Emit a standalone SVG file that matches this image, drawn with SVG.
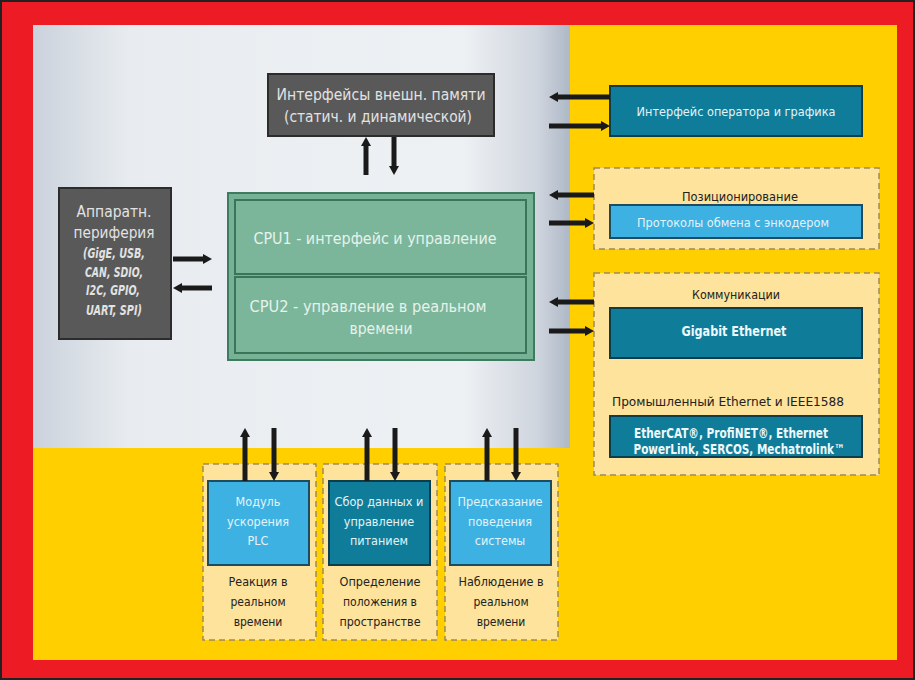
<svg xmlns="http://www.w3.org/2000/svg" width="915" height="680" viewBox="0 0 915 680">
<defs>
<linearGradient id="panel" x1="0" y1="0" x2="1" y2="0">
<stop offset="0" stop-color="#cbd2dc"/>
<stop offset="0.18" stop-color="#e8ecf0"/>
<stop offset="0.8" stop-color="#eef1f4"/>
<stop offset="0.94" stop-color="#cfd5de"/>
<stop offset="1" stop-color="#aeb8c6"/>
</linearGradient>
<marker id="ah" markerUnits="userSpaceOnUse" markerWidth="10" markerHeight="10" viewBox="0 0 10 10" refX="2" refY="5" orient="auto">
<path d="M0,0 L9,5 L0,10 z" fill="#1a1a1a"/>
</marker>
<style>
text{font-family:"Liberation Sans Narrow","DejaVu Sans Condensed","Liberation Sans",sans-serif;text-anchor:middle}
.gray{fill:#595959;stroke:#2c2c2c;stroke-width:2}
.gt{fill:#e2e2e2;font-size:15px}
.gi{fill:#e2e2e2;font-size:13.5px;font-style:italic;font-weight:bold}
.cpu{fill:#76b296;stroke:#3e7b5f;stroke-width:2}
.cpuin{fill:#7bb69b;stroke:#3a7559;stroke-width:2}
.ct{fill:#e6f2ec;font-size:16px}
.dash{fill:#fde39b;stroke:#a08a5a;stroke-width:1.5;stroke-dasharray:6 4}
.dark{fill:#0f7d99;stroke:#0b3d4c;stroke-width:2}
.light{fill:#3eb1e3;stroke:#1c4c62;stroke-width:2}
.wt{fill:#e4f3f8;font-size:12.5px}
.wb{fill:#eef8fb;font-size:13.5px;font-weight:bold}
.bt{fill:#222;font-size:12px}
.arr{stroke:#1a1a1a;stroke-width:5;fill:none;marker-end:url(#ah)}
</style>
</defs>
<rect x="1" y="1" width="913" height="678" fill="#ed1c24" stroke="#222" stroke-width="2"/>
<rect x="33" y="25" width="864" height="635" fill="#ffcf00"/>
<rect x="33" y="25" width="537" height="423" fill="url(#panel)"/>

<g id="memory">
<rect class="gray" x="268" y="74" width="226" height="62"/>
<text class="gt" x="381" y="100" textLength="209" lengthAdjust="spacingAndGlyphs">Интерфейсы внешн. памяти</text>
<text class="gt" x="378" y="122" textLength="188" lengthAdjust="spacingAndGlyphs">(статич. и динамической)</text>
</g>

<g id="periphery">
<rect class="gray" x="59" y="188" width="112" height="151"/>
<text class="gt" x="114" y="217" textLength="75" lengthAdjust="spacingAndGlyphs">Аппаратн.</text>
<text class="gt" x="114" y="238" textLength="81" lengthAdjust="spacingAndGlyphs">периферия</text>
<text class="gi" x="114" y="258" textLength="62" lengthAdjust="spacingAndGlyphs">(GigE, USB,</text>
<text class="gi" x="114" y="277" textLength="58" lengthAdjust="spacingAndGlyphs">CAN, SDIO,</text>
<text class="gi" x="113" y="295" textLength="54" lengthAdjust="spacingAndGlyphs">I2C, GPIO,</text>
<text class="gi" x="114" y="315" textLength="56" lengthAdjust="spacingAndGlyphs">UART, SPI)</text>
</g>

<g id="cpu">
<rect class="cpu" x="228" y="193" width="306" height="167"/>
<rect class="cpuin" x="235" y="200" width="291" height="74"/>
<rect class="cpuin" x="235" y="277" width="291" height="76"/>
<text class="ct" x="375" y="244" textLength="243" lengthAdjust="spacingAndGlyphs">CPU1 - интерфейс и управление</text>
<text class="ct" x="368" y="312" textLength="237" lengthAdjust="spacingAndGlyphs">CPU2 - управление в реальном</text>
<text class="ct" x="381" y="334" textLength="63" lengthAdjust="spacingAndGlyphs">времени</text>
</g>

<g id="operator">
<rect class="dark" x="610" y="86" width="252" height="50"/>
<text class="wt" x="736" y="116" textLength="199" lengthAdjust="spacingAndGlyphs">Интерфейс оператора и графика</text>
</g>

<g id="positioning">
<rect class="dash" x="594" y="168" width="285" height="81"/>
<text class="bt" x="740" y="201" textLength="116" lengthAdjust="spacingAndGlyphs">Позиционирование</text>
<rect class="light" x="610" y="205" width="252" height="33"/>
<text class="wt" x="733" y="227" textLength="192" lengthAdjust="spacingAndGlyphs">Протоколы обмена с энкодером</text>
</g>

<g id="communications">
<rect class="dash" x="594" y="273" width="285" height="202"/>
<text class="bt" x="736" y="299" textLength="88" lengthAdjust="spacingAndGlyphs">Коммуникации</text>
<rect class="dark" x="610" y="308" width="252" height="50"/>
<text class="wb" x="734" y="336" textLength="105" lengthAdjust="spacingAndGlyphs">Gigabit Ethernet</text>
<text class="bt" x="728" y="406" textLength="232" lengthAdjust="spacingAndGlyphs">Промышленный Ethernet и IEEE1588</text>
<rect class="dark" x="610" y="416" width="252" height="41"/>
<text class="wb" x="731" y="438" textLength="194" lengthAdjust="spacingAndGlyphs">EtherCAT®, ProfiNET®, Ethernet</text>
<text class="wb" x="739" y="454" textLength="211" lengthAdjust="spacingAndGlyphs">PowerLink, SERCOS, Mechatrolink™</text>
</g>

<g id="plc">
<rect class="dash" x="203" y="464" width="113" height="176"/>
<rect class="light" x="208" y="481" width="101" height="84"/>
<text class="wt" x="258" y="506">Модуль</text>
<text class="wt" x="258" y="526">ускорения</text>
<text class="wt" x="258" y="545">PLC</text>
<text class="bt" x="258" y="586" textLength="59" lengthAdjust="spacingAndGlyphs">Реакция в</text>
<text class="bt" x="258" y="606">реальном</text>
<text class="bt" x="258" y="626">времени</text>
</g>

<g id="data">
<rect class="dash" x="323" y="464" width="114" height="176"/>
<rect class="dark" x="329" y="481" width="101" height="84"/>
<text class="wt" x="379" y="506" textLength="89" lengthAdjust="spacingAndGlyphs">Сбор данных и</text>
<text class="wt" x="379" y="526">управление</text>
<text class="wt" x="379" y="545">питанием</text>
<text class="bt" x="380" y="586" textLength="81" lengthAdjust="spacingAndGlyphs">Определение</text>
<text class="bt" x="380" y="606">положения в</text>
<text class="bt" x="380" y="626" textLength="81" lengthAdjust="spacingAndGlyphs">пространстве</text>
</g>

<g id="prediction">
<rect class="dash" x="445" y="464" width="113" height="176"/>
<rect class="light" x="450" y="481" width="101" height="84"/>
<text class="wt" x="500" y="506" textLength="85" lengthAdjust="spacingAndGlyphs">Предсказание</text>
<text class="wt" x="500" y="526">поведения</text>
<text class="wt" x="500" y="545">системы</text>
<text class="bt" x="501" y="586" textLength="85" lengthAdjust="spacingAndGlyphs">Наблюдение в</text>
<text class="bt" x="501" y="606">реальном</text>
<text class="bt" x="501" y="626">времени</text>
</g>

<g id="connectors">
<line class="arr" x1="366" y1="175" x2="366" y2="144"/>
<line class="arr" x1="394" y1="137" x2="394" y2="168"/>
<line class="arr" x1="173" y1="259" x2="205" y2="259"/>
<line class="arr" x1="212" y1="288" x2="180" y2="288"/>
<line class="arr" x1="610" y1="97" x2="556" y2="97"/>
<line class="arr" x1="549" y1="126" x2="603" y2="126"/>
<line class="arr" x1="594" y1="195" x2="556" y2="195"/>
<line class="arr" x1="549" y1="223" x2="587" y2="223"/>
<line class="arr" x1="594" y1="302" x2="556" y2="302"/>
<line class="arr" x1="549" y1="331" x2="587" y2="331"/>
<line class="arr" x1="245" y1="481" x2="245" y2="435"/>
<line class="arr" x1="274" y1="428" x2="274" y2="474"/>
<line class="arr" x1="367" y1="481" x2="367" y2="435"/>
<line class="arr" x1="395" y1="428" x2="395" y2="474"/>
<line class="arr" x1="487" y1="481" x2="487" y2="435"/>
<line class="arr" x1="516" y1="428" x2="516" y2="474"/>
</g>
</svg>
